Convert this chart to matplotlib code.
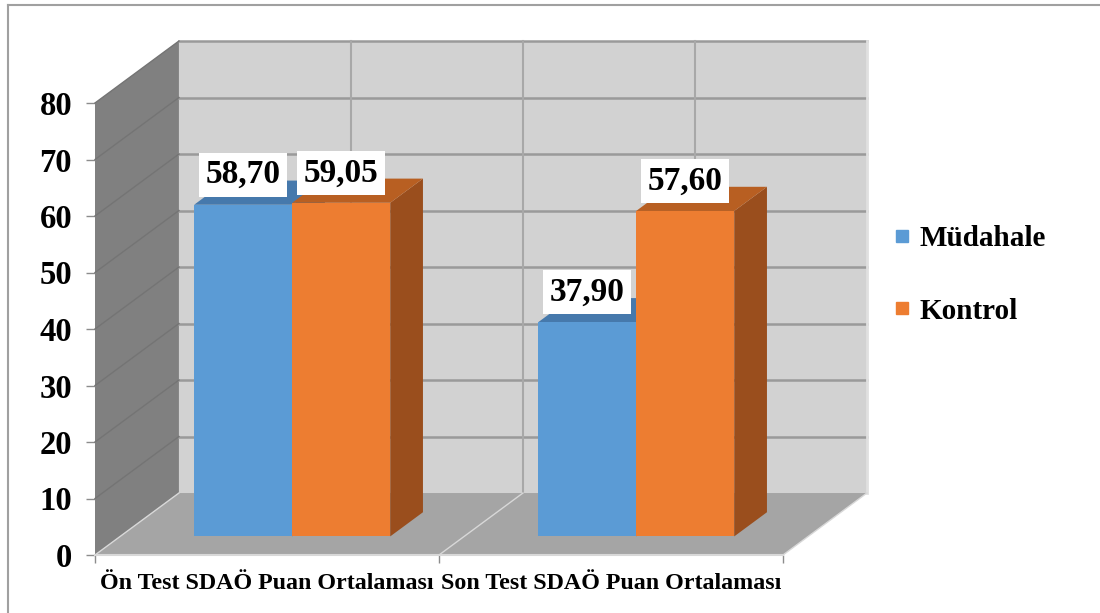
import matplotlib.pyplot as plt
from matplotlib.patches import Polygon
from matplotlib.lines import Line2D

plt.rcParams['font.family'] = ['Liberation Serif', 'DejaVu Serif']
plt.rcParams['font.weight'] = 'bold'

categories = ["Ön Test SDAÖ Puan Ortalaması", "Son Test SDAÖ Puan Ortalaması"]
series_names = ["Müdahale", "Kontrol"]
mudahale = [58.70, 37.90]
kontrol = [59.05, 57.60]
y_ticks = [0, 10, 20, 30, 40, 50, 60, 70, 80]

front_colors = ["#5b9bd5", "#ed7d31"]
top_colors = ["#4679ac", "#b85f22"]
side_colors = ["#3e6d9b", "#9a4e1d"]

# fake 3d: shift per unit of depth, in axis units
DX = 0.244
DY = 10.97
bar_w = 0.285
f_depth, b_depth = 0.30, 0.69


def proj(x, y, d):
    return (x + d * DX, y + d * DY)


fig = plt.figure(figsize=(11, 6.13), dpi=100)
ax = fig.add_axes([95 / 1100, 58 / 613, 688 / 1100, 452 / 613])
ax.set_xlim(0, 2)
ax.set_ylim(0, 80)
for s in ax.spines.values():
    s.set_visible(False)
ax.patch.set_visible(False)

ymax = y_ticks[-1]
ncat = len(categories)

# walls and floor
back = Polygon([proj(0, 0, 1), proj(ncat, 0, 1), proj(ncat, ymax, 1), proj(0, ymax, 1)],
               closed=True, fc="#d2d2d2", ec="none", clip_on=False, zorder=1)
side = Polygon([proj(0, 0, 0), proj(0, 0, 1), proj(0, ymax, 1), proj(0, ymax, 0)],
               closed=True, fc="#808080", ec="none", clip_on=False, zorder=1)
floor = Polygon([proj(0, 0, 0), proj(ncat, 0, 0), proj(ncat, 0, 1), proj(0, 0, 1)],
                closed=True, fc="#a5a5a5", ec="none", clip_on=False, zorder=1)
for p in (back, side, floor):
    ax.add_patch(p)

for v in y_ticks[1:]:
    p0, p1 = proj(0, v, 1), proj(ncat, v, 1)
    ax.plot([p0[0], p1[0]], [p0[1], p1[1]], color="#9a9a9a", lw=1.8, clip_on=False, zorder=2)
    q0 = proj(0, v, 0)
    ax.plot([q0[0], p0[0]], [q0[1], p0[1]], color="#747474", lw=1.0, clip_on=False, zorder=2)

for xv in [0.5, 1, 1.5]:
    p0, p1 = proj(xv, 0, 1), proj(xv, ymax, 1)
    ax.plot([p0[0], p1[0]], [p0[1], p1[1]], color="#a8a8a8", lw=1.5, clip_on=False, zorder=2)
r0, r1 = proj(ncat, 0, 1), proj(ncat, ymax, 1)
ax.plot([r0[0], r1[0]], [r0[1], r1[1]], color="#e0e0e0", lw=2, clip_on=False, zorder=2)

for xv in range(ncat + 1):
    p0, p1 = proj(xv, 0, 0), proj(xv, 0, 1)
    ax.plot([p0[0], p1[0]], [p0[1], p1[1]], color="#d8d8d8", lw=1.0, clip_on=False, zorder=2)
ax.plot([0, ncat], [0, 0], color="#d8d8d8", lw=1.5, clip_on=False, zorder=2)

# bars
z = 3
for i in range(ncat):
    for k, vals in enumerate([mudahale, kontrol]):
        v = vals[i]
        x0 = i + 0.5 - bar_w + k * bar_w
        x1 = x0 + bar_w
        f, b = f_depth, b_depth
        side_face = Polygon([proj(x1, 0, f), proj(x1, 0, b), proj(x1, v, b), proj(x1, v, f)],
                            closed=True, fc=side_colors[k], ec="none", clip_on=False, zorder=z)
        top_face = Polygon([proj(x0, v, f), proj(x1, v, f), proj(x1, v, b), proj(x0, v, b)],
                           closed=True, fc=top_colors[k], ec="none", clip_on=False, zorder=z)
        front_face = Polygon([proj(x0, 0, f), proj(x1, 0, f), proj(x1, v, f), proj(x0, v, f)],
                             closed=True, fc=front_colors[k], ec="none", clip_on=False, zorder=z)
        ax.add_patch(side_face)
        ax.add_patch(top_face)
        ax.add_patch(front_face)
        z += 1

# value labels
for i in range(ncat):
    for k, vals in enumerate([mudahale, kontrol]):
        v = vals[i]
        xc = i + 0.5 - bar_w / 2 + k * bar_w + f_depth * DX
        ax.text(xc, v + 8.6, f"{v:.2f}".replace(".", ","), ha="center", va="center",
                fontsize=24, fontweight="bold", zorder=20,
                bbox=dict(boxstyle="square,pad=0.19", fc="white", ec="none"))

# axes ticks
ax.set_yticks(y_ticks)
ax.set_yticklabels([str(t) for t in y_ticks], fontsize=23.5, fontweight="bold")
ax.tick_params(axis="y", length=6.5, width=1, color="#8c8c8c", pad=10)
ax.set_xticks(range(ncat + 1))
ax.set_xticklabels([])
ax.tick_params(axis="x", which="major", length=6, width=1, color="#8c8c8c")
ax.set_xticks([i + 0.5 for i in range(ncat)], minor=True)
ax.set_xticklabels(categories, minor=True, fontsize=17.3, fontweight="bold")
ax.tick_params(axis="x", which="minor", length=0, pad=13)

handles = [Line2D([], [], marker="s", linestyle="none", markersize=9,
                  markerfacecolor=c, markeredgecolor=c) for c in front_colors]
fig.legend(handles, series_names, loc="center left", bbox_to_anchor=(867 / 1100, 1 - 275 / 613),
           frameon=False, prop={"size": 21, "weight": "bold"}, handlelength=0.6,
           handletextpad=0.3, labelspacing=1.55)

# chart border (only top and left visible)
fig.add_artist(Line2D([8 / 1100, 8 / 1100], [0, 1 - 5 / 613], color="#a0a0a0", lw=1.5))
fig.add_artist(Line2D([8 / 1100, 1], [1 - 5 / 613, 1 - 5 / 613], color="#a0a0a0", lw=1.5))

fig.savefig("out.png", dpi=100)
